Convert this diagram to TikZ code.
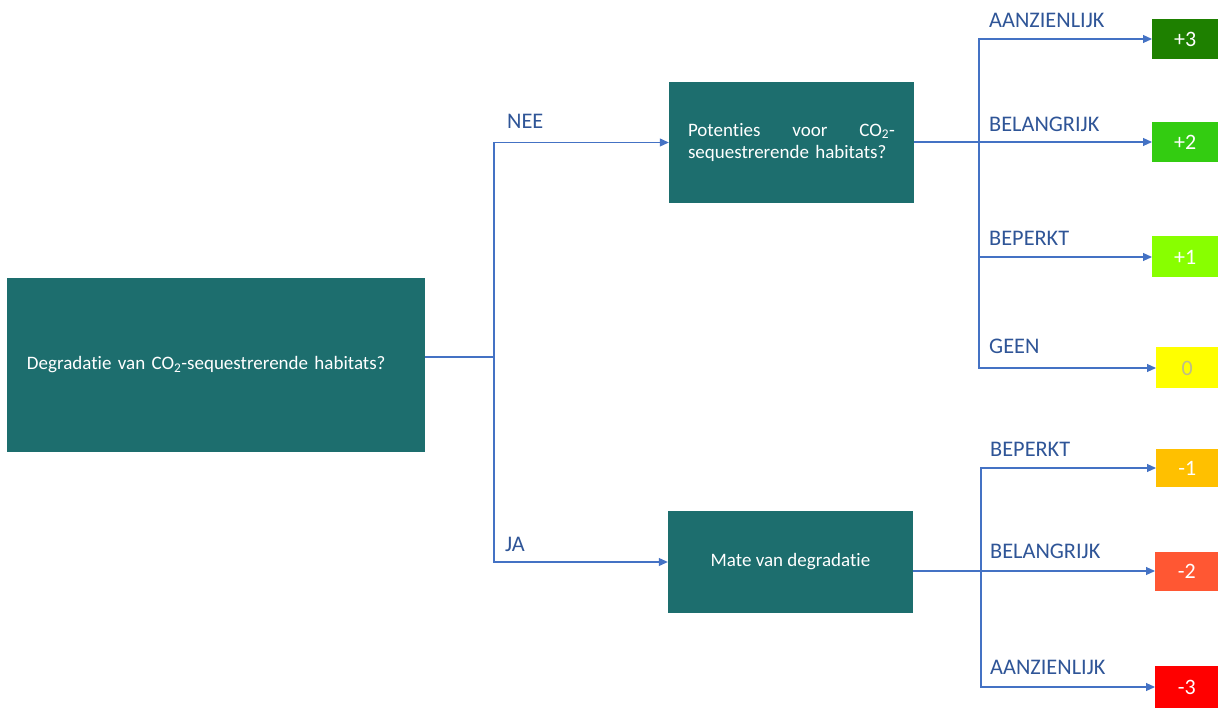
\documentclass[tikz,border=0pt]{standalone}
\usepackage{fontspec}
\setmainfont{Carlito}[Ligatures={NoCommon}]
\usetikzlibrary{arrows.meta}
\newcommand\mynohyph{\hyphenpenalty=10000\relax}
\definecolor{teal1}{HTML}{1D6E6E}
\definecolor{lbl}{HTML}{2F5597}
\definecolor{ln}{HTML}{4472C4}
\definecolor{c3}{HTML}{1E8000}
\definecolor{c2}{HTML}{33CC11}
\definecolor{c1}{HTML}{88FF00}
\definecolor{c0}{HTML}{FFFF00}
\definecolor{m1}{HTML}{FFC000}
\definecolor{m2}{HTML}{FF5733}
\definecolor{m3}{HTML}{FF0000}
\definecolor{zerotxt}{HTML}{BDBD8A}
\tikzset{
  qbox/.style={fill=teal1, text=white, font=\fontsize{19}{22.5}\selectfont\mynohyph, inner ysep=0pt},
  res/.style={anchor=west, inner sep=0pt, text=white, font=\fontsize{22}{24}\selectfont},
  lab/.style={anchor=west, inner sep=0pt, text=lbl, font=\fontsize{22.3}{24}\selectfont},
  conn/.style={draw=ln, line width=1.1pt},
  arr/.style={conn, -{Triangle[length=9pt,width=8pt]}},
}
\begin{document}
\begin{tikzpicture}[x=1pt,y=-1pt]
\useasboundingbox (0,0) rectangle (1218,708);
% question boxes
\node[qbox, text width=378pt, align=left, inner xsep=20pt, minimum height=174pt] (main) at (216,365) {Degradatie van CO\textsubscript{2}-sequestrerende habitats?};
\node[qbox, text width=207pt, align=left, inner xsep=19pt, minimum height=121pt] (pot) at (791.5,142.5) {Potenties\hfill voor\hfill CO\textsubscript{2}-\\sequestrerende habitats?};
\node[qbox, minimum width=245pt, minimum height=102pt, inner xsep=0pt] (mate) at (790.5,562) {Mate van degradatie};
% result boxes
\node[res, fill=c3, minimum width=66pt, minimum height=40pt] (p3) at (1152,39) {+3};
\node[res, fill=c2, minimum width=66pt, minimum height=40pt] (p2) at (1152,142) {+2};
\node[res, fill=c1, minimum width=66pt, minimum height=41pt] (p1) at (1152,257) {+1};
\node[res, fill=c0, text=zerotxt, minimum width=62pt, minimum height=41pt] (z0) at (1156,368) {0};
\node[res, fill=m1, minimum width=62pt, minimum height=38pt] (n1) at (1156,468) {-1};
\node[res, fill=m2, minimum width=63pt, minimum height=39pt] (n2) at (1155,571) {-2};
\node[res, fill=m3, minimum width=63pt, minimum height=42pt] (n3) at (1155,687) {-3};
% junctions
\coordinate (j1) at (494,357);
\coordinate (j2) at (979,142);
\coordinate (j3) at (981,571);
% connectors
\draw[conn, line width=1.8pt] (main.east |- j1) -- (j1);
\draw[arr] (j1) |- (pot.west);
\draw[arr] (j1) |- (mate.west);
\draw[conn, line width=1.8pt] (pot.east |- j2) -- (j2);
\draw[arr] (j2) |- (p3.west);
\draw[arr] (j2) -- (p2.west);
\draw[arr] (j2) |- (p1.west);
\draw[arr] (j2) |- (z0.west);
\draw[conn, line width=1.8pt] (mate.east |- j3) -- (j3);
\draw[arr] (j3) |- (n1.west);
\draw[arr] (j3) -- (n2.west);
\draw[arr] (j3) |- (n3.west);
% labels
\node[lab] (lnee) at (507,121) {NEE};
\node[lab] (lja) at (505,544) {JA};
\node[lab] (l1) at (989,20) {AANZIENLIJK};
\node[lab] (l2) at (989,124) {BELANGRIJK};
\node[lab] (l3) at (989,238) {BEPERKT};
\node[lab] (l4) at (989,346) {GEEN};
\node[lab] (l5) at (990,449) {BEPERKT};
\node[lab] (l6) at (990,551) {BELANGRIJK};
\node[lab] (l7) at (990,667) {AANZIENLIJK};
\end{tikzpicture}
\end{document}
